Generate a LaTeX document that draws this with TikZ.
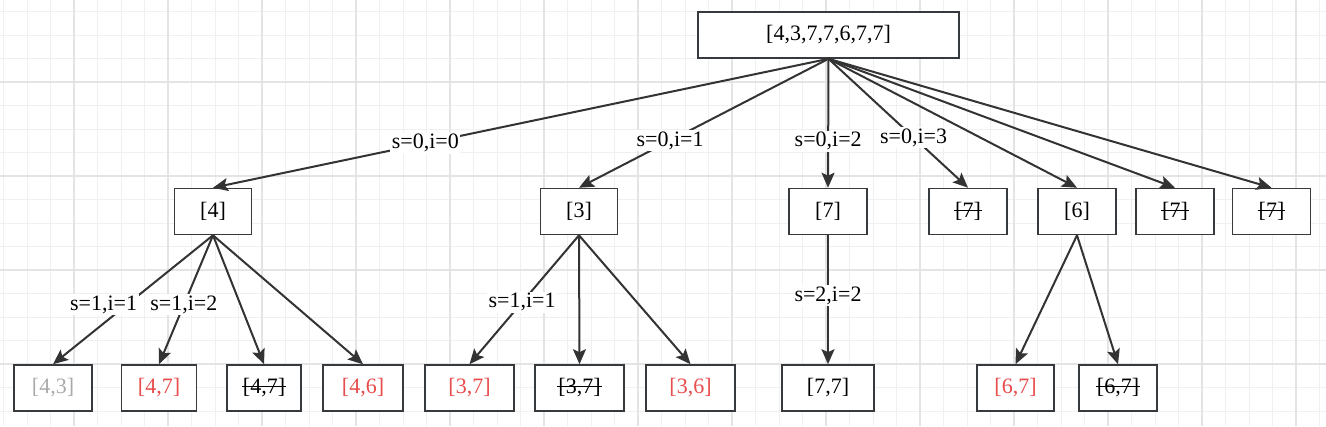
\documentclass[tikz,border=0pt]{standalone}
\usepackage{fontspec}
\setmainfont{Liberation Serif}
\usetikzlibrary{arrows.meta}
\definecolor{gridminor}{HTML}{F0F0F0}
\definecolor{gridmajor}{HTML}{E4E4E4}
\definecolor{boxline}{HTML}{36393D}
\definecolor{edgeline}{HTML}{333333}
\definecolor{picked}{HTML}{E84C4C}
\definecolor{skipped}{HTML}{AAAAAA}
\newsavebox\strikebox
\newcommand\struck[1]{\sbox\strikebox{#1}\rlap{\hspace{-1pt}\rule[0.3em]{\dimexpr\wd\strikebox+2pt\relax}{1.3pt}}\usebox\strikebox}

\begin{document}
\begin{tikzpicture}[x=1pt, y=-1pt,
    every node/.style={font=\fontsize{22}{26}\selectfont},
    box/.style={draw=boxline, line width=1.6pt, fill=white, minimum height=46pt, inner sep=2pt},
    edge/.style={draw=edgeline, line width=2pt, -{Stealth[length=15pt,width=13pt,inset=3pt]}},
    lbl/.style={fill=white, inner sep=1.5pt}
]
    \useasboundingbox (0,0) rectangle (1326,426);
    \fill[white] (0,0) rectangle (1326,426);
    \foreach \k in {0,...,56}
        \draw[gridminor, line width=1pt] (3.5+23.5*\k, 0) -- (3.5+23.5*\k, 426);
    \foreach \k in {0,...,17}
        \draw[gridminor, line width=1pt] (0, 11.5+23.5*\k) -- (1326, 11.5+23.5*\k);
    \foreach \k in {0,...,13}
        \draw[gridmajor, line width=1.6pt] (74+94*\k, 0) -- (74+94*\k, 426);
    \foreach \k in {0,...,3}
        \draw[gridmajor, line width=1.6pt] (0, 82+94*\k) -- (1326, 82+94*\k);

    \node[box, minimum width=261pt] (root) at (828.5,35) {[4,3,7,7,6,7,7]};

    \node[box, minimum width=77pt] (n4) at (213,211.5) {[4]};
    \node[box, minimum width=77pt] (n3) at (579,211.5) {[3]};
    \node[box, minimum width=78pt] (n7a) at (828,211.5) {[7]};
    \node[box, minimum width=78pt] (n7b) at (968,211.5) {\struck{[7]}};
    \node[box, minimum width=78pt] (n6) at (1077,211.5) {[6]};
    \node[box, minimum width=78pt] (n7c) at (1175,211.5) {\struck{[7]}};
    \node[box, minimum width=78pt] (n7d) at (1271.5,211.5) {\struck{[7]}};

    \node[box, minimum width=78pt, text=skipped] (n43) at (53,388) {[4,3]};
    \node[box, minimum width=75pt, text=picked] (n47) at (159,388) {[4,7]};
    \node[box, minimum width=74pt] (n47x) at (264,388) {\struck{[4,7]}};
    \node[box, minimum width=80pt, text=picked] (n46) at (363,388) {[4,6]};
    \node[box, minimum width=89pt, text=picked] (n37) at (469.5,388) {[3,7]};
    \node[box, minimum width=89pt] (n37x) at (579.5,388) {\struck{[3,7]}};
    \node[box, minimum width=89pt, text=picked] (n36) at (690.5,388) {[3,6]};
    \node[box, minimum width=92pt] (n77) at (828,388) {[7,7]};
    \node[box, minimum width=77pt, text=picked] (n67) at (1015.5,388) {[6,7]};
    \node[box, minimum width=78pt] (n67x) at (1118,388) {\struck{[6,7]}};

    \draw[edge] (root.south) -- (n4.north) node[lbl, pos=0.655] {s=0,i=0};
    \draw[edge] (root.south) -- (n3.north) node[lbl, pos=0.635] {s=0,i=1};
    \draw[edge] (root.south) -- (n7a.north) node[lbl, pos=0.64] {s=0,i=2};
    \draw[edge] (root.south) -- (n7b.north) node[lbl, pos=0.61] {s=0,i=3};
    \draw[edge] (root.south) -- (n6.north);
    \draw[edge] (root.south) -- (n7c.north);
    \draw[edge] (root.south) -- (n7d.north);

    \draw[edge] (n4.south) -- (n43.north) node[lbl, pos=0.54, xshift=-23pt] {s=1,i=1};
    \draw[edge] (n4.south) -- (n47.north) node[lbl, pos=0.54] {s=1,i=2};
    \draw[edge] (n4.south) -- (n47x.north);
    \draw[edge] (n4.south) -- (n46.north);

    \draw[edge] (n3.south) -- (n37.north) node[lbl, pos=0.52] {s=1,i=1};
    \draw[edge] (n3.south) -- (n37x.north);
    \draw[edge] (n3.south) -- (n36.north);

    \draw[edge] (n7a.south) -- (n77.north) node[lbl, pos=0.47] {s=2,i=2};

    \draw[edge] (n6.south) -- (n67.north);
    \draw[edge] (n6.south) -- (n67x.north);
\end{tikzpicture}
\end{document}
